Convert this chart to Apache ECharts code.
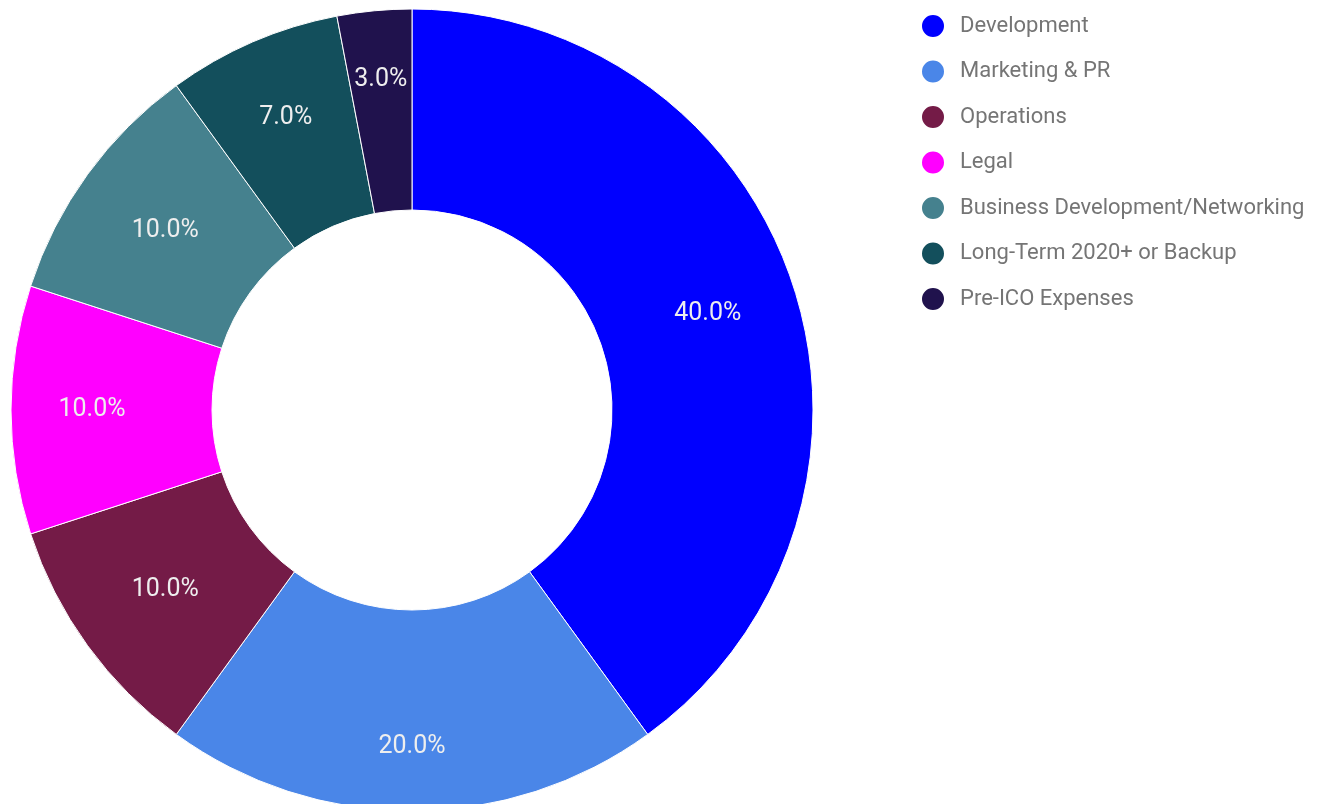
<!DOCTYPE html>
<html>
<head>
<meta charset="utf-8">
<script src="https://cdn.jsdelivr.net/npm/echarts@6/dist/echarts.min.js"></script>
<style>
  html, body { margin: 0; padding: 0; background: #fff; }
  #chart { width: 1323px; height: 804px; }
</style>
</head>
<body>
<div id="chart"></div>
<script>
// 分類與數值
const categories = ['Development', 'Marketing & PR', 'Operations', 'Legal',
  'Business Development/Networking', 'Long-Term 2020+ or Backup', 'Pre-ICO Expenses'];
const values = [40, 20, 10, 10, 10, 7, 3];
const colors = ['#0000ff', '#4a86e8', '#741b47', '#ff00ff', '#45818e', '#134f5c', '#20124d'];
// 標籤離圓心的距離 (樣式)
const labelRadius = [311, 337, 305, 320, 305, 318, 332];

const cx = 412, cy = 410;
const chart = echarts.init(document.getElementById('chart'));
const data = categories.map((name, i) => ({ name: name, value: values[i] }));

chart.setOption({
  backgroundColor: '#fff',
  color: colors,
  textStyle: { fontFamily: 'Roboto' },
  legend: {
    orient: 'vertical',
    left: 915,
    top: 8,
    icon: 'circle',
    itemWidth: 24,
    itemHeight: 24,
    itemGap: 19.5,
    textStyle: { color: '#757575', fontSize: 22, fontFamily: 'Roboto', padding: [0, 0, 0, 10] },
    data: categories
  },
  series: [{
    type: 'pie',
    center: [cx, cy],
    radius: [200, 401],
    startAngle: 90,
    clockwise: true,
    animation: false,
    itemStyle: { borderColor: '#fff', borderWidth: 1 },
    label: {
      position: 'inside',
      formatter: p => p.value.toFixed(1) + '%',
      color: '#eeeeee',
      fontSize: 25,
      fontFamily: 'Roboto'
    },
    labelLine: { show: false },
    labelLayout: function (p) {
      const r = p.labelRect;
      const lx = r.x + r.width / 2 - cx;
      const ly = r.y + r.height / 2 - cy;
      const d = Math.sqrt(lx * lx + ly * ly);
      const k = labelRadius[p.dataIndex] / d - 1;
      return { dx: lx * k, dy: ly * k };
    },
    data: data
  }]
});
</script>
</body>
</html>
